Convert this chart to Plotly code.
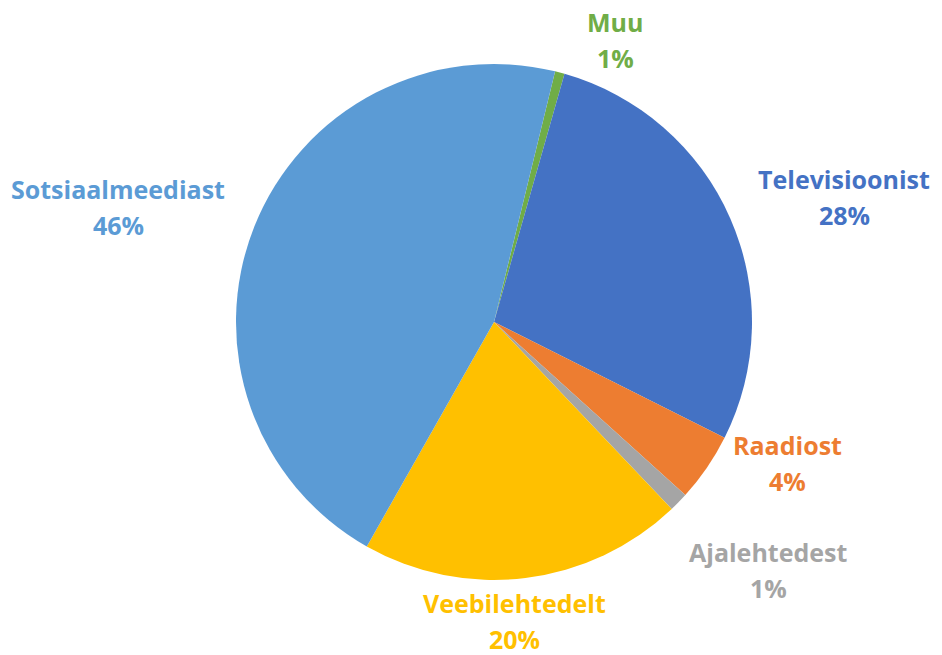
import plotly.graph_objects as go

categories = ["Muu", "Televisioonist", "Raadiost", "Ajalehtedest", "Veebilehtedelt", "Sotsiaalmeediast"]
values = [0.6, 28.0, 4.3, 1.2, 20.3, 45.6]
pct_labels = ["1%", "28%", "4%", "1%", "20%", "46%"]
colors = ["#70AD47", "#4472C4", "#ED7D31", "#A5A5A5", "#FFC000", "#5B9BD5"]
label_x = [615, 844, 787, 768, 514, 118]
label_y = [40, 197, 463, 570, 621, 207]

W, H = 942, 655
GAP = 18  # half distance between the two label lines

fig = go.Figure(go.Pie(
    labels=categories,
    values=values,
    sort=False,
    direction="clockwise",
    rotation=13.7,
    marker=dict(colors=colors, line=dict(width=0)),
    textinfo="none",
    hoverinfo="label+percent",
    showlegend=False,
    domain=dict(x=[236 / W, 752 / W], y=[(H - 580) / H, (H - 64) / H]),
))

for name, pct, col, lx, ly in zip(categories, pct_labels, colors, label_x, label_y):
    for txt, dy in ((name, -GAP), (pct, GAP)):
        fig.add_annotation(
            x=lx / W, y=1 - (ly + dy) / H, xref="paper", yref="paper",
            xanchor="center", yanchor="middle",
            text=f"<b>{txt}</b>",
            showarrow=False, align="center", borderpad=0,
            font=dict(family="Open Sans", size=25, color=col),
        )

fig.update_layout(
    width=W, height=H,
    margin=dict(l=0, r=0, t=0, b=0),
    paper_bgcolor="white", plot_bgcolor="white",
)

fig.write_html(
    "out.html",
    config={"displayModeBar": False},
    post_script="document.body.style.margin='0';document.body.style.overflow='hidden';",
)
